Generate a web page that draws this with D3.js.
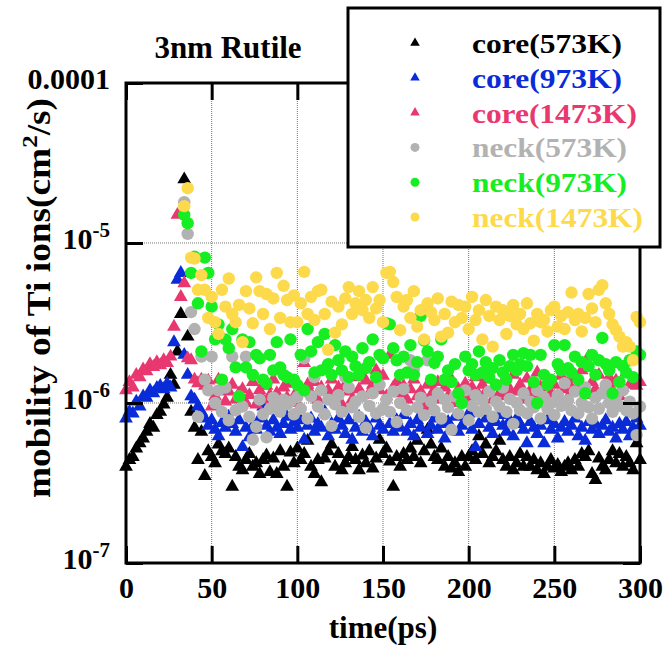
<!DOCTYPE html>
<html>
<head>
<meta charset="utf-8">
<script src="https://cdn.jsdelivr.net/npm/d3@7"></script>
<style>
  html, body { margin: 0; padding: 0; background: #fff; }
  svg text { font-family: "Liberation Serif", "Times New Roman", serif; font-weight: bold; }
</style>
</head>
<body>
<div id="chart"></div>
<script>
// mobility values in units of 1e-6 cm^2/s, sampled every 2 ps
var timeCore = d3.range(0, 301, 2);   // core series: 0..300 ps
var timeNeck = d3.range(34, 301, 2);  // neck series: 34..300 ps

var core573 = [
  0.40,0.44,0.46,0.52,0.56,0.60,0.66,0.74,0.70,0.84,
  0.88,0.98,1.08,1.50,1.30,2.10,3.60,25.0,2.60,0.88,
  0.70,0.44,0.66,0.35,0.50,0.46,0.42,0.55,0.50,0.48,
  0.52,0.30,0.46,0.40,0.38,0.44,0.48,0.40,0.42,0.36,
  0.44,0.47,0.37,0.45,0.36,0.50,0.40,0.30,0.49,0.42,
  0.52,0.44,0.48,0.58,0.40,0.36,0.44,0.32,0.45,0.50,
  0.55,0.40,0.48,0.38,0.42,0.46,0.53,0.44,0.38,0.47,
  0.42,0.50,0.39,0.45,0.59,0.48,0.52,0.43,0.30,0.46,
  0.40,0.48,0.44,0.52,0.46,0.58,0.42,0.50,0.68,0.55,
  0.46,0.44,0.52,0.40,0.46,0.39,0.42,0.37,0.46,0.40,
  0.46,0.50,0.44,0.62,0.48,0.55,0.42,0.46,0.50,0.58,
  0.44,0.40,0.46,0.38,0.42,0.48,0.40,0.46,0.40,0.44,
  0.38,0.42,0.36,0.40,0.44,0.39,0.41,0.37,0.40,0.42,
  0.38,0.44,0.40,0.48,0.46,0.50,0.36,0.33,0.45,0.40,
  0.38,0.44,0.50,0.42,0.48,0.40,0.46,0.42,0.38,0.56,
  0.44];

var core973 = [
  0.80,0.88,0.86,1.02,0.95,1.10,1.08,1.20,1.15,1.24,
  1.28,1.22,1.32,1.25,2.40,5.90,6.50,2.00,1.50,1.10,
  1.05,0.95,0.88,0.80,0.72,0.78,0.68,0.62,0.75,0.70,
  0.82,0.74,0.66,0.78,0.53,0.70,0.61,0.72,0.68,0.80,
  0.95,0.72,0.66,0.78,0.70,0.64,0.74,0.82,0.68,0.76,
  0.70,0.78,0.59,0.72,0.80,0.66,0.74,0.70,0.88,0.62,
  0.74,0.68,0.80,0.72,0.64,0.78,0.59,0.70,0.82,0.66,
  0.76,0.70,0.62,0.80,0.72,0.68,0.90,0.74,0.66,0.78,
  0.70,0.84,0.66,0.74,0.62,0.78,0.70,0.86,0.64,0.72,
  0.80,0.68,0.74,0.60,0.76,0.70,0.82,0.66,0.72,0.78,
  0.86,0.68,0.53,0.74,0.90,0.80,0.70,0.64,0.76,0.84,
  0.72,0.66,0.78,0.62,0.80,0.74,0.68,0.56,0.76,0.70,
  0.64,0.72,0.56,0.78,0.68,0.74,0.60,0.70,0.76,0.66,
  0.72,0.80,0.62,0.70,0.58,0.76,0.68,0.74,0.64,0.72,
  0.78,0.66,0.70,0.60,0.74,0.68,0.76,0.62,0.70,0.80,
  0.72];

var core1473 = [
  1.20,1.35,1.25,1.50,1.45,1.62,1.58,1.75,1.68,1.80,
  1.72,1.85,1.78,1.95,3.00,15.0,4.60,5.60,1.90,1.85,
  1.40,1.33,1.40,1.28,1.38,0.95,1.10,1.40,1.25,1.02,
  1.18,1.30,1.05,1.15,1.22,1.00,1.12,1.35,0.98,1.20,
  1.05,1.28,1.12,1.40,1.15,1.00,1.25,1.08,1.32,1.10,
  1.00,1.22,1.78,1.30,1.15,1.35,1.05,1.25,1.67,1.20,
  1.40,1.10,1.25,0.98,1.30,1.18,1.05,1.45,1.22,1.12,
  1.38,1.15,1.30,1.60,1.20,1.48,1.10,2.00,1.25,1.35,
  1.15,1.28,1.05,1.22,1.40,1.10,1.18,0.95,1.30,1.12,
  1.20,1.35,1.05,1.25,1.10,1.40,1.00,1.22,1.15,1.32,
  1.08,1.25,1.45,1.12,1.30,1.18,1.40,1.05,1.28,1.15,
  1.35,1.10,1.22,1.50,1.18,1.30,1.05,1.42,1.20,1.12,
  1.55,1.25,1.05,1.38,1.15,1.30,1.10,1.48,1.22,1.35,
  1.18,1.42,1.28,1.60,1.12,1.95,1.35,1.22,1.50,1.15,
  1.30,1.45,1.20,1.38,1.10,1.25,1.55,1.30,1.40,1.28,
  1.35];

var neck573 = [
  18.0,11.4,3.70,2.90,0.82,1.95,1.40,1.20,1.95,1.00,
  1.20,0.88,1.25,0.78,1.95,0.90,1.10,0.95,1.95,0.82,
  0.59,0.71,1.05,0.85,0.61,0.92,1.08,1.00,0.88,1.05,
  0.98,1.02,0.85,1.09,0.92,1.90,0.80,1.10,1.45,0.95,
  1.20,0.85,1.05,0.72,0.98,1.12,0.88,1.45,1.25,0.94,
  1.02,0.82,1.10,0.70,0.96,1.15,0.86,1.30,0.92,1.05,
  0.88,1.18,0.76,1.00,1.22,0.90,1.85,1.62,0.94,1.08,
  0.84,1.85,1.02,0.90,1.15,0.80,1.05,0.94,0.68,1.10,
  0.86,1.00,1.20,0.78,0.96,1.12,0.88,1.04,0.92,1.18,
  0.82,1.02,0.95,1.25,0.88,1.06,0.74,1.00,0.90,1.15,
  0.86,1.02,0.94,1.20,0.80,1.08,0.92,1.00,0.84,1.12,
  0.96,1.33,1.04,0.90,1.18,0.86,1.00,1.25,0.94,0.80,
  1.08,0.92,1.15,1.30,1.00,0.88,1.10,0.96,1.20,0.90,
  1.02,0.86,0.63,0.95];

var neck973 = [
  15.0,13.3,6.50,8.20,4.20,2.10,8.10,6.50,4.00,2.50,
  3.10,1.40,2.50,2.20,2.90,1.67,1.10,2.50,1.67,2.40,
  1.50,2.00,1.90,1.40,1.33,2.00,1.60,2.40,1.67,1.50,
  1.45,2.50,1.40,1.30,2.00,1.20,2.90,2.10,1.55,2.40,
  1.60,2.70,1.75,1.50,2.30,1.85,1.60,2.10,1.45,1.95,
  1.70,1.50,2.20,1.65,1.80,2.50,1.45,2.00,1.90,3.15,
  3.10,2.20,1.85,1.50,1.95,1.55,2.30,1.50,1.80,3.50,
  2.45,2.10,1.40,1.78,1.95,2.50,1.40,1.60,1.35,1.75,
  1.15,1.00,1.95,1.60,1.75,1.50,2.10,1.55,1.80,1.45,
  1.65,1.30,1.85,1.55,1.40,1.70,2.00,1.60,1.75,2.05,
  1.70,2.00,1.35,1.00,2.00,1.50,1.30,1.40,2.30,1.75,
  1.60,2.30,1.65,1.55,1.95,1.40,1.80,1.15,1.70,2.00,
  1.50,1.85,2.55,1.75,1.60,1.15,1.80,1.35,1.70,1.55,
  1.85,1.45,2.10,2.00];

var neck1473 = [
  17.0,22.0,8.10,8.00,5.10,6.30,5.10,3.40,4.60,3.20,
  2.70,5.10,4.00,6.00,3.60,3.20,4.10,2.40,5.00,3.90,
  3.15,6.10,5.00,3.60,4.80,2.90,4.50,6.50,3.40,5.40,
  4.40,3.20,4.70,3.20,4.20,6.60,3.60,4.60,3.30,5.00,
  5.10,3.60,2.15,4.30,2.75,4.00,3.10,4.50,5.30,3.60,
  4.20,5.00,3.80,4.40,3.40,5.30,3.90,4.40,3.20,6.50,
  6.60,5.70,4.60,2.85,4.00,4.40,3.40,5.00,3.00,3.80,
  2.50,4.20,3.70,3.30,4.50,2.60,3.60,2.75,4.30,3.20,
  4.10,3.40,4.00,2.90,4.60,3.30,3.80,2.50,4.40,3.50,
  2.25,4.00,3.30,3.80,2.70,3.50,4.10,3.10,3.60,2.90,
  4.20,3.15,2.45,3.60,3.20,3.30,2.80,3.80,4.00,3.00,
  3.50,2.90,3.70,4.90,3.30,3.60,2.80,3.40,4.80,3.90,
  3.20,5.10,5.45,4.20,3.60,3.10,2.85,2.60,2.25,2.40,
  2.25,1.85,3.45,3.20];

var seriesNames = ["core(573K)", "core(973K)", "core(1473K)", "neck(573K)", "neck(973K)", "neck(1473K)"];
var seriesColors = ["#000000", "#0a2bd8", "#e8386f", "#b2b2b2", "#16ee22", "#fdd94c"];
var xTicks = [0, 50, 100, 150, 200, 250, 300];
var yTicks = [1e-7, 1e-6, 1e-5, 1e-4];

var width = 666, height = 651;
var plotL = 126, plotR = 640, plotT = 83, plotB = 563;

var svg = d3.select("#chart").append("svg")
  .attr("width", width)
  .attr("height", height);

var x = d3.scaleLinear().domain([0, 300]).range([plotL, plotR]);
var y = d3.scaleLog().domain([1e-7, 1e-4]).range([plotB, plotT]);

// dotted grid
svg.append("g").selectAll("line")
  .data([50, 100, 150, 200, 250])
  .enter().append("line")
  .attr("x1", function(d){ return x(d); }).attr("x2", function(d){ return x(d); })
  .attr("y1", plotT).attr("y2", plotB)
  .attr("stroke", "#777").attr("stroke-width", 1).attr("stroke-dasharray", "1,1");

svg.append("g").selectAll("line")
  .data([1e-6, 1e-5])
  .enter().append("line")
  .attr("x1", plotL).attr("x2", plotR)
  .attr("y1", function(d){ return y(d); }).attr("y2", function(d){ return y(d); })
  .attr("stroke", "#777").attr("stroke-width", 1).attr("stroke-dasharray", "1,1");

// points
var series = [
  { t: timeCore, v: core573, shape: "tri" },
  { t: timeCore, v: core973, shape: "tri" },
  { t: timeCore, v: core1473, shape: "tri" },
  { t: timeNeck, v: neck573, shape: "circ" },
  { t: timeNeck, v: neck973, shape: "circ" },
  { t: timeNeck, v: neck1473, shape: "circ" }
];

var tri = d3.symbol().type(d3.symbolTriangle).size(82);

series.forEach(function(s, i){
  var pts = s.v.map(function(v, j){ return { t: s.t[j], v: v * 1e-6 }; });
  var g = svg.append("g").attr("fill", seriesColors[i]);
  if (s.shape == "tri") {
    g.selectAll("path").data(pts).enter().append("path")
      .attr("d", tri)
      .attr("transform", function(d){ return "translate(" + x(d.t) + "," + y(d.v) + ")"; });
  } else {
    g.selectAll("circle").data(pts).enter().append("circle")
      .attr("cx", function(d){ return x(d.t); })
      .attr("cy", function(d){ return y(d.v); })
      .attr("r", 6.2);
  }
});

// axes with inward ticks
var tickLen = 17;
var xb = svg.append("g").attr("transform", "translate(0," + plotB + ")")
  .call(d3.axisBottom(x).tickValues(xTicks).tickSizeInner(-tickLen).tickSizeOuter(0).tickPadding(0));
var xt = svg.append("g").attr("transform", "translate(0," + plotT + ")")
  .call(d3.axisTop(x).tickValues(xTicks).tickSizeInner(-tickLen).tickSizeOuter(0).tickFormat(""));
var yl = svg.append("g").attr("transform", "translate(" + plotL + ",0)")
  .call(d3.axisLeft(y).tickValues(yTicks).tickSizeInner(-tickLen).tickSizeOuter(0).tickPadding(0));
var yr = svg.append("g").attr("transform", "translate(" + plotR + ",0)")
  .call(d3.axisRight(y).tickValues(yTicks).tickSizeInner(-tickLen).tickSizeOuter(0).tickFormat(""));

[xb, xt, yl, yr].forEach(function(a){
  a.select(".domain").remove();
  a.selectAll(".tick line").attr("stroke", "#000").attr("stroke-width", 3);
});

xb.selectAll(".tick text")
  .attr("y", 35).attr("dy", null)
  .attr("font-size", 30).attr("fill", "#000")
  .attr("font-family", "Liberation Serif").attr("font-weight", "bold");

yl.selectAll(".tick text").each(function(d){
  var t = d3.select(this).text("")
    .attr("x", -16).attr("dy", null).attr("y", 5)
    .attr("text-anchor", "end")
    .attr("font-size", 30).attr("fill", "#000")
    .attr("font-family", "Liberation Serif").attr("font-weight", "bold");
  if (d == 1e-4) {
    t.text("0.0001");
  } else {
    var e = Math.round(Math.log10(d));
    t.append("tspan").text("10");
    t.append("tspan").attr("dy", -12).attr("font-size", 21).text("-" + (-e));
  }
});

// frame
svg.append("rect")
  .attr("x", plotL).attr("y", plotT)
  .attr("width", plotR - plotL).attr("height", plotB - plotT)
  .attr("fill", "none").attr("stroke", "#000").attr("stroke-width", 3);

// title and axis labels
svg.append("text").attr("x", 228).attr("y", 58)
  .attr("text-anchor", "middle").attr("font-size", 31).text("3nm Rutile");

svg.append("text").attr("x", 383).attr("y", 638)
  .attr("text-anchor", "middle").attr("font-size", 31).text("time(ps)");

var yLab = svg.append("text")
  .attr("transform", "translate(50,298) rotate(-90)")
  .attr("text-anchor", "middle").attr("font-size", 33)
  .attr("textLength", 400).attr("lengthAdjust", "spacingAndGlyphs");
yLab.append("tspan").text("mobility of Ti ions(cm");
yLab.append("tspan").attr("dy", -13).attr("font-size", 22).text("2");
yLab.append("tspan").attr("dy", 13).text("/s)");

// legend
var lg = svg.append("g");
lg.append("rect")
  .attr("x", 348).attr("y", 8).attr("width", 312).attr("height", 239)
  .attr("fill", "#fff").attr("stroke", "#000").attr("stroke-width", 3);

var legendWidths = [150, 150, 165, 155, 155, 171];
var legendTri = d3.symbol().type(d3.symbolTriangle).size(40);
seriesNames.forEach(function(name, i){
  var ly = 43 + i * 34.8;
  if (i < 3) {
    lg.append("path").attr("d", legendTri)
      .attr("transform", "translate(415," + ly + ")")
      .attr("fill", seriesColors[i]);
  } else {
    lg.append("circle").attr("cx", 415).attr("cy", ly).attr("r", 4.5)
      .attr("fill", seriesColors[i]);
  }
  lg.append("text").attr("x", 472).attr("y", ly + 10)
    .attr("font-size", 28).attr("fill", seriesColors[i])
    .attr("textLength", legendWidths[i]).attr("lengthAdjust", "spacingAndGlyphs")
    .text(name);
});
</script>
</body>
</html>
